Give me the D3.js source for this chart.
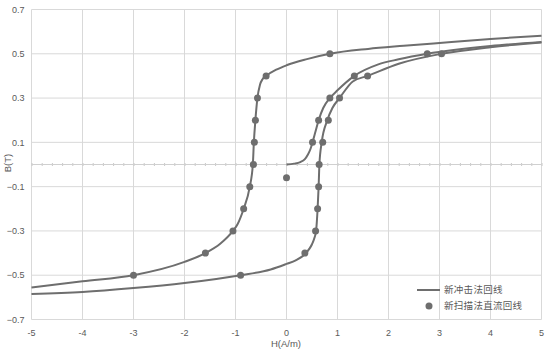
<!DOCTYPE html>
<html><head><meta charset="utf-8">
<script src="https://cdn.jsdelivr.net/npm/d3@7"></script>
<style>html,body{margin:0;padding:0;background:#fff;}svg{display:block;}</style>
</head><body><svg id="chart" width="553" height="352"></svg>
<script>
// X axis ticks and Y axis ticks
const xTicks = [-5, -4, -3, -2, -1, 0, 1, 2, 3, 4, 5];
const yTicks = [0.7, 0.5, 0.3, 0.1, -0.1, -0.3, -0.5, -0.7];
const seriesNames = ["新冲击法回线", "新扫描法直流回线"];

// 新冲击法回线: initial magnetization curve
const initH = [0, 0.15, 0.27, 0.36, 0.42, 0.47, 0.51, 0.57, 0.63, 0.72, 0.85, 1.0, 1.33, 1.8, 2.2, 2.76, 4.0, 5.0];
const initB = [0, 0.004, 0.011, 0.024, 0.045, 0.07, 0.1, 0.15, 0.2, 0.255, 0.3, 0.335, 0.4, 0.452, 0.475, 0.5, 0.535, 0.553];
// descending branch
const descH = [-5, -4, -3, -2, -1.59, -1.3, -1.05, -0.96, -0.84, -0.72, -0.66, -0.64, -0.61, -0.57, -0.52, -0.47, -0.4, -0.2, 0, 0.4, 0.85, 1.6, 2.3, 3, 4, 5];
const descB = [-0.555, -0.527, -0.5, -0.44, -0.4, -0.358, -0.3, -0.27, -0.2, -0.1, 0, 0.1, 0.2, 0.3, 0.36, 0.385, 0.4, 0.428, 0.448, 0.476, 0.5, 0.522, 0.536, 0.549, 0.567, 0.582];
// ascending branch
const ascH = [-5, -4, -3, -2, -0.9, -0.31, 0, 0.18, 0.36, 0.45, 0.5, 0.55, 0.58, 0.61, 0.63, 0.645, 0.69, 0.8, 0.9, 1.04, 1.3, 1.59, 2.2, 3.04, 4, 5];
const ascB = [-0.585, -0.576, -0.558, -0.535, -0.5, -0.474, -0.449, -0.433, -0.405, -0.38, -0.36, -0.33, -0.3, -0.2, -0.1, 0, 0.1, 0.2, 0.255, 0.3, 0.375, 0.4, 0.455, 0.5, 0.53, 0.551];

// 新扫描法直流回线 points
const scanH = [-3, -1.59, -1.05, -0.84, -0.72, -0.65, -0.63, -0.61, -0.57, -0.4, 0.85, 3.04, 1.59, 1.04, 0.82, 0.71, 0.64, 0.63, 0.61, 0.57, 0.36, -0.9, 0.51, 0.63, 0.85, 1.33, 2.76, 0];
const scanB = [-0.5, -0.4, -0.3, -0.2, -0.1, 0, 0.1, 0.2, 0.3, 0.4, 0.5, 0.5, 0.4, 0.3, 0.2, 0.1, 0, -0.1, -0.2, -0.3, -0.4, -0.5, 0.1, 0.2, 0.3, 0.4, 0.5, -0.06];

const svg = d3.select("#chart");
const x = d3.scaleLinear().domain([-5, 5]).range([31.5, 541.5]);
const y = d3.scaleLinear().domain([-0.7, 0.7]).range([319.5, 9.5]);
const textCol = "#595959", gridCol = "#d9d9d9", markCol = "#6e6e6e";
const font = "'Liberation Sans', Arial, sans-serif";

// grid
svg.append("g").selectAll("line").data(xTicks).join("line")
  .attr("x1", d => x(d)).attr("x2", d => x(d)).attr("y1", y(0.7)).attr("y2", y(-0.7))
  .attr("stroke", gridCol).attr("stroke-width", 1);
svg.append("g").selectAll("line").data(yTicks).join("line")
  .attr("x1", x(-5)).attr("x2", x(5)).attr("y1", d => y(d)).attr("y2", d => y(d))
  .attr("stroke", gridCol).attr("stroke-width", 1);

// x axis at B=0 with minor ticks
const xAxis = d3.axisBottom(x).tickValues(d3.range(-50, 51, 2).map(v => v / 10)).tickSize(3).tickFormat("");
const gx = svg.append("g").attr("transform", `translate(0,${y(0) - 1.5})`).call(xAxis);
gx.select(".domain").remove();
gx.selectAll(".tick line").attr("stroke", "#c8c8c8");
svg.append("line").attr("x1", x(-5)).attr("x2", x(5)).attr("y1", y(0)).attr("y2", y(0))
  .attr("stroke", "#d0d0d0").attr("stroke-width", 1);

// tick labels
svg.append("g").selectAll("text").data(yTicks).join("text")
  .attr("x", 24.5).attr("y", d => y(d)).attr("dy", "0.35em").attr("text-anchor", "end")
  .attr("font-family", font).attr("font-size", 9).attr("fill", textCol).text(d => d3.format(".1f")(d));
svg.append("g").selectAll("text").data(xTicks).join("text")
  .attr("x", d => x(d)).attr("y", 333).attr("dy", "0.35em").attr("text-anchor", "middle")
  .attr("font-family", font).attr("font-size", 9).attr("fill", textCol).text(d => d);

// axis titles
svg.append("text").attr("x", 286).attr("y", 344).attr("dy", "0.35em").attr("text-anchor", "middle")
  .attr("font-family", font).attr("font-size", 9.5).attr("fill", textCol).text("H(A/m)");
svg.append("text").attr("transform", "translate(8,163) rotate(-90)").attr("dy", "0.35em").attr("text-anchor", "middle")
  .attr("font-family", font).attr("font-size", 9.5).attr("fill", textCol).text("B(T)");

// curves
const line = d3.line().x(d => x(d[0])).y(d => y(d[1])).curve(d3.curveMonotoneX);
const curves = [d3.zip(initH, initB), d3.zip(descH, descB), d3.zip(ascH, ascB)];
svg.append("g").selectAll("path").data(curves).join("path")
  .attr("d", line).attr("fill", "none").attr("stroke", markCol).attr("stroke-width", 2);

// points
svg.append("g").selectAll("circle").data(d3.zip(scanH, scanB)).join("circle")
  .attr("cx", d => x(d[0])).attr("cy", d => y(d[1])).attr("r", 3.5).attr("fill", markCol);

// legend
const lg = svg.append("g");
lg.append("line").attr("x1", 417).attr("x2", 440).attr("y1", 290).attr("y2", 290).attr("stroke", markCol).attr("stroke-width", 2);
lg.append("circle").attr("cx", 429).attr("cy", 306).attr("r", 3.5).attr("fill", markCol);
lg.selectAll("text").data(seriesNames).join("text")
  .attr("x", 444).attr("y", (d, i) => 290 + i * 16).attr("dy", "0.35em")
  .attr("font-family", "'Noto Sans CJK SC', sans-serif").attr("font-size", 9.5).attr("fill", textCol)
  .attr("letter-spacing", 0.3).text(d => d);
</script></body></html>
